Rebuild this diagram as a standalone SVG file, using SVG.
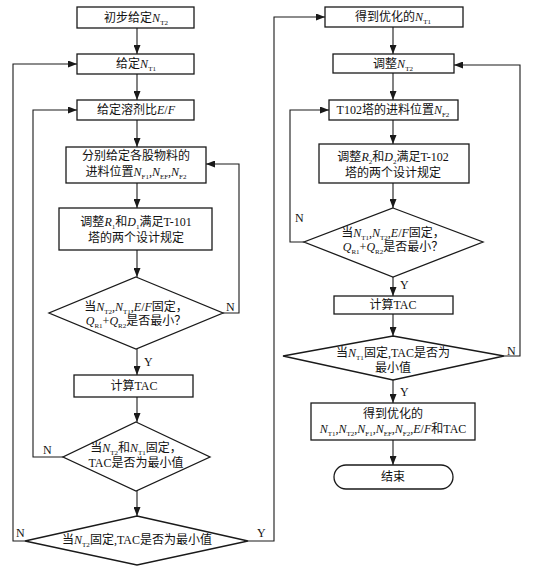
<svg xmlns="http://www.w3.org/2000/svg" width="536" height="569" viewBox="0 0 536 569">
<style>
.bg{fill:#fff}
.n rect,.n polygon{fill:#fff;stroke:#1a1a1a;stroke-width:1.3}
.c path{fill:none;stroke:#1a1a1a;stroke-width:1.1}
text{font-family:"Liberation Serif","Noto Sans CJK SC",serif;font-size:12px;fill:#111}
.m{text-anchor:middle}
.i{font-style:italic}
.s{font-size:7px}
</style>
<defs>
<marker id="arr" markerUnits="userSpaceOnUse" markerWidth="9" markerHeight="7" viewBox="0 0 9 7" refX="9" refY="3.5" orient="auto"><path d="M0,0 L9,3.5 L0,7 z" fill="#1a1a1a"/></marker>
</defs>
<rect class="bg" x="0" y="0" width="536" height="569"/>

<g id="connectors" class="c">
<path d="M137,28 V54" marker-end="url(#arr)"/>
<path d="M137,74 V100" marker-end="url(#arr)"/>
<path d="M137,120 V147" marker-end="url(#arr)"/>
<path d="M137,183 V208" marker-end="url(#arr)"/>
<path d="M137,250 V277" marker-end="url(#arr)"/>
<path d="M137,349 V375" marker-end="url(#arr)"/>
<path d="M137,397 V422" marker-end="url(#arr)"/>
<path d="M137,491 V516" marker-end="url(#arr)"/>
<path d="M223,313 H239 V164 H206" marker-end="url(#arr)"/>
<path d="M63,457 H33 V110 H77" marker-end="url(#arr)"/>
<path d="M25,541 H13 V64 H77" marker-end="url(#arr)"/>
<path d="M248,541 H274 V17 H325" marker-end="url(#arr)"/>
<path d="M393,27 V54" marker-end="url(#arr)"/>
<path d="M393,73 V100" marker-end="url(#arr)"/>
<path d="M393,120 V144" marker-end="url(#arr)"/>
<path d="M393,183 V208" marker-end="url(#arr)"/>
<path d="M393,277 V296" marker-end="url(#arr)"/>
<path d="M393,314 V336" marker-end="url(#arr)"/>
<path d="M393,380 V403" marker-end="url(#arr)"/>
<path d="M393,440 V465" marker-end="url(#arr)"/>
<path d="M304,242 H290 V110 H329" marker-end="url(#arr)"/>
<path d="M504,356 H520 V65 H454" marker-end="url(#arr)"/>
<text x="144" y="366">Y</text>
<text x="226" y="311">N</text>
<text x="43" y="454">N</text>
<text x="16" y="537">N</text>
<text x="257" y="537">Y</text>
<text x="400" y="289">Y</text>
<text x="400" y="396">Y</text>
<text x="295" y="222">N</text>
<text x="507" y="355">N</text>
</g>

<g id="b1" class="n"><rect x="77" y="7" width="117" height="21"/>
<text class="m" x="136" y="22">初步给定<tspan class="i">N</tspan><tspan class="s" dy="3">T2</tspan></text></g>
<g id="b2" class="n"><rect x="77" y="54" width="117" height="20"/>
<text class="m" x="136" y="68">给定<tspan class="i">N</tspan><tspan class="s" dy="3">T1</tspan></text></g>
<g id="b3" class="n"><rect x="77" y="100" width="117" height="20"/>
<text class="m" x="136" y="114">给定溶剂比<tspan class="i">E</tspan>/<tspan class="i">F</tspan></text></g>
<g id="b4" class="n"><rect x="66" y="147" width="140" height="36"/>
<text class="m" x="136" y="160">分别给定各股物料的</text>
<text class="m" x="136" y="176">进料位置<tspan class="i">N</tspan><tspan class="s" dy="3">F1</tspan><tspan dy="-3">,</tspan><tspan class="i">N</tspan><tspan class="s" dy="3">EF</tspan><tspan dy="-3">,</tspan><tspan class="i">N</tspan><tspan class="s" dy="3">F2</tspan></text></g>
<g id="b5" class="n"><rect x="59" y="208" width="153" height="42"/>
<text class="m" x="136" y="226">调整<tspan class="i">R</tspan><tspan class="s" dy="3">1</tspan><tspan dy="-3">和</tspan><tspan class="i">D</tspan><tspan class="s" dy="3">1</tspan><tspan dy="-3">满足T-101</tspan></text>
<text class="m" x="136" y="242">塔的两个设计规定</text></g>
<g id="d1" class="n"><polygon points="136,277 223,313 136,349 49,313"/>
<text class="m" x="136" y="311">当<tspan class="i">N</tspan><tspan class="s" dy="3">T2</tspan><tspan dy="-3">,</tspan><tspan class="i">N</tspan><tspan class="s" dy="3">T1</tspan><tspan dy="-3">,</tspan><tspan class="i">E</tspan>/<tspan class="i">F</tspan>固定，</text>
<text class="m" x="136" y="325"><tspan class="i">Q</tspan><tspan class="s" dy="3">R1</tspan><tspan dy="-3">+</tspan><tspan class="i">Q</tspan><tspan class="s" dy="3">R2</tspan><tspan dy="-3">是否最小？</tspan></text></g>
<g id="b6" class="n"><rect x="74" y="375" width="119" height="22"/>
<text class="m" x="134" y="390">计算TAC</text></g>
<g id="d2" class="n"><polygon points="136,422 210,457 136,491 63,457"/>
<text class="m" x="136" y="452">当<tspan class="i">N</tspan><tspan class="s" dy="3">T2</tspan><tspan dy="-3">和</tspan><tspan class="i">N</tspan><tspan class="s" dy="3">T1</tspan><tspan dy="-3">固定，</tspan></text>
<text class="m" x="136" y="467">TAC是否为最小值</text></g>
<g id="d3" class="n"><polygon points="137,516 248,541 137,565 25,541"/>
<text class="m" x="137" y="544">当<tspan class="i">N</tspan><tspan class="s" dy="3">T2</tspan><tspan dy="-3">固定,TAC是否为最小值</tspan></text></g>

<g id="r1" class="n"><rect x="325" y="7" width="138" height="20"/>
<text class="m" x="393" y="21">得到优化的<tspan class="i">N</tspan><tspan class="s" dy="3">T1</tspan></text></g>
<g id="r2" class="n"><rect x="333" y="54" width="121" height="19"/>
<text class="m" x="393" y="68">调整<tspan class="i">N</tspan><tspan class="s" dy="3">T2</tspan></text></g>
<g id="r3" class="n"><rect x="329" y="100" width="129" height="20"/>
<text class="m" x="393" y="114">T102塔的进料位置<tspan class="i">N</tspan><tspan class="s" dy="3">F2</tspan></text></g>
<g id="r4" class="n"><rect x="319" y="144" width="150" height="39"/>
<text class="m" x="393" y="161">调整<tspan class="i">R</tspan><tspan class="s" dy="3">2</tspan><tspan dy="-3">和</tspan><tspan class="i">D</tspan><tspan class="s" dy="3">2</tspan><tspan dy="-3">满足T-102</tspan></text>
<text class="m" x="393" y="177">塔的两个设计规定</text></g>
<g id="dr1" class="n"><polygon points="393,208 483,242 393,277 304,242"/>
<text class="m" x="393" y="237">当<tspan class="i">N</tspan><tspan class="s" dy="3">T1</tspan><tspan dy="-3">,</tspan><tspan class="i">N</tspan><tspan class="s" dy="3">T2</tspan><tspan dy="-3">,</tspan><tspan class="i">E</tspan>/<tspan class="i">F</tspan>固定，</text>
<text class="m" x="393" y="251"><tspan class="i">Q</tspan><tspan class="s" dy="3">R1</tspan><tspan dy="-3">+</tspan><tspan class="i">Q</tspan><tspan class="s" dy="3">R2</tspan><tspan dy="-3">是否最小？</tspan></text></g>
<g id="r5" class="n"><rect x="334" y="296" width="119" height="18"/>
<text class="m" x="393" y="309">计算TAC</text></g>
<g id="dr2" class="n"><polygon points="393,336 504,356 393,380 283,356"/>
<text class="m" x="393" y="357">当<tspan class="i">N</tspan><tspan class="s" dy="3">T1</tspan><tspan dy="-3">固定,TAC是否为</tspan></text>
<text class="m" x="393" y="372">最小值</text></g>
<g id="r6" class="n"><rect x="311" y="403" width="164" height="37"/>
<text class="m" x="393" y="418">得到优化的</text>
<text class="m" x="393" y="433"><tspan class="i">N</tspan><tspan class="s" dy="3">T1</tspan><tspan dy="-3">,</tspan><tspan class="i">N</tspan><tspan class="s" dy="3">T2</tspan><tspan dy="-3">,</tspan><tspan class="i">N</tspan><tspan class="s" dy="3">F1</tspan><tspan dy="-3">,</tspan><tspan class="i">N</tspan><tspan class="s" dy="3">EF</tspan><tspan dy="-3">,</tspan><tspan class="i">N</tspan><tspan class="s" dy="3">F2</tspan><tspan dy="-3">,</tspan><tspan class="i">E</tspan>/<tspan class="i">F</tspan>和TAC</text></g>
<g id="end" class="n"><rect x="334" y="465" width="119" height="24" rx="12" ry="12"/>
<text class="m" x="393" y="481">结束</text></g>
</svg>
